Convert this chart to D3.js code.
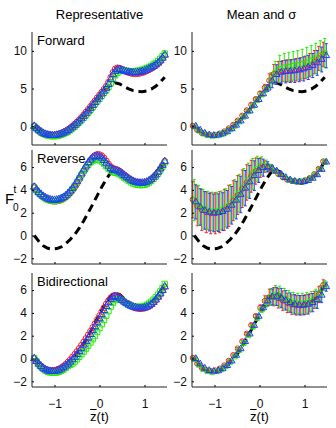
<!DOCTYPE html>
<meta charset="utf-8">
<body style="margin:0;background:#fff">
<script src="https://d3js.org/d3.v7.min.js"></script>
<div id="chart"></div>
<script>
// x grid of the representative runs and of the averaged runs
const xFine = [-1.45,-1.4,-1.35,-1.3,-1.25,-1.2,-1.15,-1.1,-1.05,-1,-0.95,-0.9,-0.85,-0.8,-0.75,-0.7,-0.65,-0.6,-0.55,-0.5,-0.45,-0.4,-0.35,-0.3,-0.25,-0.2,-0.15,-0.1,-0.05,0,0.05,0.1,0.15,0.2,0.25,0.3,0.35,0.4,0.45,0.5,0.55,0.6,0.65,0.7,0.75,0.8,0.85,0.9,0.95,1,1.05,1.1,1.15,1.2,1.25,1.3,1.35,1.4,1.45];
const xMean = [-1.45,-1.35,-1.25,-1.15,-1.05,-0.95,-0.85,-0.75,-0.65,-0.55,-0.45,-0.35,-0.25,-0.15,-0.05,0.05,0.15,0.25,0.35,0.45,0.55,0.65,0.75,0.85,0.95,1.05,1.15,1.25,1.35,1.45];

// exact profile (dashed)
const trueF = [0.0,-0.5,-0.9,-1.12,-1.2,-1.15,-1.0,-0.72,-0.35,0.1,0.65,1.3,2.0,2.75,3.5,4.25,4.95,5.5,5.75,5.6,5.25,4.95,4.72,4.6,4.58,4.68,4.92,5.3,5.85,6.5];

// representative estimates
const repFwdRed = [0.05,-0.2,-0.48,-0.7,-0.88,-1.02,-1.1,-1.16,-1.18,-1.17,-1.12,-1.05,-0.95,-0.8,-0.63,-0.44,-0.22,0.02,0.28,0.56,0.86,1.18,1.52,1.88,2.24,2.62,3.0,3.38,3.76,4.14,4.52,4.9,5.3,5.85,6.5,7.15,7.6,7.75,7.7,7.55,7.38,7.22,7.1,7.02,6.97,6.95,6.97,7.02,7.1,7.2,7.33,7.48,7.65,7.83,8.05,8.3,8.6,8.98,9.4];
const repFwdGreen = [-0.05,-0.35,-0.62,-0.85,-1.02,-1.15,-1.25,-1.31,-1.34,-1.34,-1.31,-1.25,-1.16,-1.04,-0.9,-0.73,-0.53,-0.3,-0.05,0.22,0.5,0.8,1.12,1.45,1.8,2.16,2.53,2.9,3.28,3.65,4.03,4.4,4.78,5.2,5.7,6.25,6.75,7.1,7.3,7.38,7.38,7.35,7.32,7.3,7.3,7.32,7.36,7.42,7.5,7.6,7.72,7.86,8.02,8.2,8.4,8.65,8.95,9.3,9.65];
const repFwdBlue = [0.0,-0.27,-0.53,-0.75,-0.93,-1.06,-1.15,-1.21,-1.23,-1.22,-1.18,-1.11,-1.02,-0.89,-0.74,-0.56,-0.35,-0.12,0.13,0.4,0.69,1.0,1.33,1.67,2.02,2.39,2.77,3.15,3.53,3.91,4.29,4.67,5.05,5.55,6.2,6.85,7.3,7.52,7.52,7.43,7.33,7.24,7.17,7.12,7.1,7.1,7.12,7.17,7.25,7.35,7.48,7.62,7.78,7.95,8.15,8.4,8.7,9.05,9.45];

const repRevRed = [4.3,4.02,3.78,3.57,3.4,3.26,3.15,3.07,3.02,3.0,3.01,3.05,3.12,3.22,3.35,3.52,3.72,3.96,4.24,4.55,4.89,5.25,5.62,5.98,6.32,6.62,6.86,7.03,7.12,7.1,7.0,6.8,6.55,6.28,6.05,5.9,5.82,5.76,5.65,5.5,5.34,5.18,5.03,4.9,4.79,4.7,4.64,4.61,4.61,4.64,4.7,4.8,4.94,5.12,5.33,5.58,5.87,6.18,6.52];
const repRevGreen = [4.2,3.95,3.72,3.53,3.37,3.24,3.14,3.07,3.03,3.02,3.04,3.09,3.17,3.28,3.42,3.6,3.82,4.08,4.37,4.68,5.0,5.33,5.65,5.94,6.2,6.41,6.56,6.64,6.65,6.6,6.48,6.3,6.08,5.86,5.68,5.56,5.5,5.45,5.36,5.22,5.07,4.92,4.78,4.66,4.56,4.49,4.44,4.42,4.42,4.45,4.52,4.63,4.78,4.96,5.17,5.42,5.71,6.03,6.4];
const repRevBlue = [4.25,4.0,3.78,3.6,3.45,3.32,3.22,3.15,3.11,3.1,3.12,3.17,3.25,3.36,3.5,3.68,3.9,4.15,4.43,4.74,5.07,5.42,5.77,6.1,6.4,6.64,6.82,6.93,6.96,6.92,6.8,6.6,6.35,6.1,5.9,5.78,5.72,5.66,5.56,5.42,5.27,5.12,4.98,4.86,4.76,4.68,4.63,4.61,4.61,4.64,4.7,4.8,4.94,5.12,5.32,5.57,5.86,6.17,6.5];

const repBiRed = [0.0,-0.24,-0.46,-0.65,-0.81,-0.93,-1.01,-1.05,-1.06,-1.04,-0.99,-0.91,-0.8,-0.66,-0.5,-0.31,-0.1,0.13,0.37,0.62,0.89,1.17,1.46,1.76,2.07,2.39,2.72,3.06,3.41,3.76,4.11,4.45,4.78,5.08,5.33,5.5,5.55,5.49,5.36,5.19,5.02,4.86,4.72,4.6,4.5,4.43,4.38,4.36,4.37,4.41,4.48,4.58,4.72,4.9,5.11,5.36,5.64,5.95,6.28];
const repBiGreen = [0.05,-0.25,-0.52,-0.75,-0.93,-1.07,-1.17,-1.23,-1.26,-1.26,-1.23,-1.17,-1.08,-0.97,-0.83,-0.67,-0.55,-0.45,-0.28,-0.08,0.14,0.37,0.61,0.86,1.12,1.4,1.69,2.0,2.32,2.65,3.0,3.37,3.75,4.15,4.55,4.9,5.12,5.22,5.2,5.1,4.97,4.84,4.73,4.65,4.59,4.55,4.53,4.53,4.56,4.62,4.71,4.83,4.98,5.16,5.37,5.61,5.88,6.18,6.55];
const repBiBlue = [0.0,-0.25,-0.48,-0.68,-0.85,-0.98,-1.07,-1.12,-1.14,-1.13,-1.09,-1.02,-0.92,-0.79,-0.64,-0.48,-0.3,-0.1,0.12,0.36,0.62,0.9,1.19,1.49,1.8,2.12,2.46,2.8,3.15,3.5,3.86,4.22,4.57,4.9,5.18,5.37,5.44,5.4,5.26,5.11,4.96,4.82,4.7,4.6,4.52,4.46,4.42,4.4,4.41,4.45,4.52,4.62,4.76,4.94,5.15,5.4,5.68,5.98,6.3];

// mean and standard deviation
const meanFwdRed = [0.05,-0.5,-0.9,-1.12,-1.2,-1.15,-0.98,-0.7,-0.3,0.18,0.75,1.4,2.1,2.85,3.6,4.35,5.1,6.05,6.9,7.2,7.3,7.35,7.4,7.5,7.6,7.8,8.1,8.5,9.0,9.55];
const sdFwdRed = [0.05,0.05,0.05,0.05,0.05,0.05,0.08,0.1,0.1,0.12,0.15,0.15,0.15,0.18,0.2,0.25,0.45,0.9,1.3,1.4,1.4,1.45,1.45,1.5,1.5,1.5,1.55,1.55,1.6,1.6];
const meanFwdGreen = [-0.05,-0.58,-0.98,-1.2,-1.28,-1.23,-1.08,-0.8,-0.42,0.05,0.6,1.25,1.95,2.7,3.45,4.2,5.0,6.1,7.1,7.6,7.8,7.9,8.0,8.1,8.25,8.45,8.7,9.0,9.35,9.7];
const sdFwdGreen = [0.05,0.05,0.05,0.05,0.05,0.05,0.08,0.1,0.1,0.12,0.15,0.15,0.15,0.18,0.2,0.25,0.5,1.0,1.5,1.8,1.85,1.9,1.9,1.95,1.95,2.0,2.0,2.0,2.0,1.95];
const meanFwdBlue = [0.0,-0.53,-0.93,-1.15,-1.23,-1.18,-1.02,-0.74,-0.35,0.13,0.69,1.33,2.02,2.77,3.53,4.29,5.05,6.0,6.85,7.15,7.25,7.3,7.35,7.45,7.6,7.8,8.05,8.4,8.85,9.35];
const sdFwdBlue = [0.05,0.05,0.05,0.05,0.05,0.05,0.08,0.1,0.1,0.12,0.15,0.15,0.15,0.18,0.2,0.25,0.45,0.9,1.3,1.45,1.5,1.5,1.55,1.55,1.6,1.6,1.6,1.65,1.65,1.6];

const meanRevRed = [3.15,2.6,2.25,2.05,1.95,1.95,2.05,2.25,2.6,3.05,3.55,4.1,4.65,5.2,5.65,5.95,6.05,5.95,5.7,5.4,5.1,4.9,4.78,4.72,4.74,4.84,5.05,5.38,5.85,6.5];
const sdRevRed = [1.6,1.75,1.8,1.8,1.8,1.8,1.8,1.8,1.8,1.75,1.7,1.65,1.55,1.4,1.15,0.85,0.5,0.3,0.18,0.14,0.12,0.1,0.1,0.1,0.1,0.1,0.1,0.1,0.1,0.12];
const meanRevGreen = [3.1,2.65,2.35,2.2,2.12,2.12,2.22,2.42,2.78,3.22,3.72,4.28,4.85,5.4,5.85,6.1,6.12,5.95,5.68,5.38,5.1,4.9,4.78,4.72,4.74,4.84,5.05,5.36,5.82,6.45];
const sdRevGreen = [1.8,1.75,1.7,1.68,1.68,1.68,1.68,1.68,1.68,1.68,1.65,1.6,1.5,1.35,1.1,0.8,0.5,0.28,0.16,0.12,0.1,0.1,0.1,0.1,0.1,0.1,0.1,0.1,0.1,0.1];
const meanRevBlue = [2.95,2.5,2.2,2.05,1.98,2.0,2.1,2.3,2.65,3.1,3.6,4.15,4.7,5.25,5.7,5.95,6.02,5.9,5.65,5.35,5.08,4.88,4.76,4.7,4.72,4.82,5.02,5.33,5.8,6.45];
const sdRevBlue = [1.5,1.6,1.65,1.65,1.65,1.65,1.65,1.65,1.65,1.65,1.6,1.55,1.45,1.3,1.05,0.75,0.45,0.25,0.15,0.12,0.1,0.1,0.1,0.1,0.1,0.1,0.1,0.1,0.1,0.1];

const meanBiRed = [0.05,-0.45,-0.82,-1.02,-1.1,-1.05,-0.88,-0.6,-0.2,0.3,0.88,1.5,2.18,2.93,3.72,4.45,5.05,5.38,5.42,5.28,5.08,4.88,4.73,4.66,4.66,4.73,4.88,5.15,5.6,6.45];
const sdBiRed = [0.05,0.05,0.05,0.05,0.05,0.05,0.05,0.05,0.05,0.08,0.08,0.1,0.1,0.12,0.15,0.25,0.45,0.7,0.8,0.85,0.85,0.85,0.85,0.85,0.85,0.85,0.8,0.75,0.7,0.45];
const meanBiGreen = [-0.05,-0.55,-0.92,-1.12,-1.18,-1.12,-0.95,-0.68,-0.3,0.18,0.74,1.36,2.03,2.78,3.55,4.3,4.95,5.4,5.55,5.45,5.25,5.05,4.9,4.82,4.82,4.88,5.02,5.28,5.7,6.4];
const sdBiGreen = [0.05,0.05,0.05,0.05,0.05,0.05,0.05,0.05,0.05,0.08,0.08,0.1,0.1,0.12,0.15,0.25,0.45,0.75,0.85,0.9,0.9,0.9,0.9,0.9,0.9,0.9,0.85,0.8,0.7,0.45];
const meanBiBlue = [0.0,-0.48,-0.85,-1.05,-1.12,-1.08,-0.9,-0.62,-0.22,0.28,0.85,1.48,2.15,2.9,3.7,4.45,5.05,5.4,5.45,5.3,5.1,4.9,4.75,4.68,4.68,4.75,4.9,5.15,5.55,6.3];
const sdBiBlue = [0.05,0.05,0.05,0.05,0.05,0.05,0.05,0.05,0.05,0.08,0.08,0.1,0.1,0.12,0.15,0.25,0.45,0.7,0.8,0.85,0.85,0.85,0.85,0.85,0.85,0.85,0.8,0.75,0.65,0.4];

const rowLabels = ["Forward", "Reverse", "Bidirectional"];
const colTitles = ["Representative", "Mean and \u03c3"];
const xTicks = [-1, 0, 1];
const yTicks = [[0, 5, 10], [-2, 0, 2, 4, 6], [-2, 0, 2, 4, 6]];
const yDomains = [[-2.5, 12.5], [-2.5, 7.5], [-2.5, 7.5]];

// layout
const W = 336, H = 428;
const colX = [32, 192], plotW = 135;
const rowY = [[32, 145], [150, 264], [273, 387]];
const colors = ["#ff1a1a", "#22ee00", "#1f3dff"];
const symbols = [d3.symbolCircle, d3.symbolSquare, d3.symbolTriangle];
const symSize = [26, 28, 24];
const dodge = [-1.5, 0, 1.5];
const fmt = d => (d < 0 ? "\u2212" : "") + Math.abs(d);

const rep = [[repFwdRed, repFwdGreen, repFwdBlue], [repRevRed, repRevGreen, repRevBlue], [repBiRed, repBiGreen, repBiBlue]];
const means = [[meanFwdRed, meanFwdGreen, meanFwdBlue], [meanRevRed, meanRevGreen, meanRevBlue], [meanBiRed, meanBiGreen, meanBiBlue]];
const sds = [[sdFwdRed, sdFwdGreen, sdFwdBlue], [sdRevRed, sdRevGreen, sdRevBlue], [sdBiRed, sdBiGreen, sdBiBlue]];

const svg = d3.select("#chart").append("svg")
    .attr("width", W).attr("height", H)
    .style("font-family", "'Liberation Sans', Arial, sans-serif")
    .style("background", "#fff");

// column titles
colTitles.forEach((t, c) => {
    svg.append("text")
        .attr("x", colX[c] + plotW / 2 + (c ? 2 : 0)).attr("y", 19)
        .attr("text-anchor", "middle").attr("font-size", 13)
        .text(t);
});

const line = d3.line();

for (let r = 0; r < 3; r++) {
    const y = d3.scaleLinear().domain(yDomains[r]).range([rowY[r][1], rowY[r][0]]);
    for (let c = 0; c < 2; c++) {
        const x = d3.scaleLinear().domain([-1.5, 1.5]).range([colX[c], colX[c] + plotW]);
        const g = svg.append("g");

        // exact profile
        g.append("path")
            .attr("d", line(xMean.map((v, i) => [x(v), y(trueF[i])])))
            .attr("fill", "none").attr("stroke", "#000")
            .attr("stroke-width", 3).attr("stroke-dasharray", "8,5");

        if (c === 0) {
            rep[r].forEach((s, k) => {
                g.selectAll(null).data(s).join("path")
                    .attr("transform", (d, i) => `translate(${x(xFine[i])},${y(d)})`)
                    .attr("d", d3.symbol().type(symbols[k]).size(symSize[k]))
                    .attr("fill", "none").attr("stroke", colors[k]).attr("stroke-width", 1);
            });
        } else {
            means[r].forEach((s, k) => {
                const sd = sds[r][k];
                const eb = g.append("g").attr("stroke", colors[k]).attr("stroke-width", 1).attr("fill", "none");
                s.forEach((m, i) => {
                    const px = x(xMean[i]) + dodge[k];
                    const y0 = y(m - sd[i]), y1 = y(m + sd[i]);
                    eb.append("line").attr("x1", px).attr("x2", px).attr("y1", y0).attr("y2", y1);
                    eb.append("line").attr("x1", px - 1.5).attr("x2", px + 1.5).attr("y1", y0).attr("y2", y0);
                    eb.append("line").attr("x1", px - 1.5).attr("x2", px + 1.5).attr("y1", y1).attr("y2", y1);
                });
            });
            means[r].forEach((s, k) => {
                g.selectAll(null).data(s).join("path")
                    .attr("transform", (d, i) => `translate(${x(xMean[i]) + dodge[k]},${y(d)})`)
                    .attr("d", d3.symbol().type(symbols[k]).size(symSize[k] * 0.8))
                    .attr("fill", "none").attr("stroke", colors[k]).attr("stroke-width", 1);
            });
        }

        // axes
        const ax = svg.append("g")
            .attr("transform", `translate(0,${rowY[r][1]})`)
            .call(d3.axisBottom(x).tickValues(xTicks).tickFormat(fmt).tickSize(-2).tickPadding(12));
        if (r < 2) ax.selectAll("text").remove();
        const ay = svg.append("g")
            .attr("transform", `translate(${colX[c]},0)`)
            .call(d3.axisLeft(y).tickValues(yTicks[r]).tickFormat(fmt).tickSize(-2).tickPadding(5));
        [ax, ay].forEach(a => {
            a.select(".domain").attr("stroke", "#222");
            a.selectAll("text").attr("font-size", 12).attr("font-family", "'Liberation Sans', Arial, sans-serif").attr("fill", "#111");
        });
        // keep only left and bottom spines
        ax.select(".domain").attr("d", `M${colX[c]},0H${colX[c] + plotW}`);
        ay.select(".domain").attr("d", `M0,${rowY[r][0]}V${rowY[r][1]}`);

        if (c === 0) {
            svg.append("text")
                .attr("x", colX[c] + 5).attr("y", rowY[r][0] + 13)
                .attr("font-size", 13).text(rowLabels[r]);
        }
    }
}

// y label F_0^t
const fl = svg.append("g");
fl.append("text").attr("x", 5).attr("y", 204).attr("font-size", 15).text("F");
fl.append("text").attr("x", 13.5).attr("y", 193).attr("font-size", 10).text("t");
fl.append("text").attr("x", 13).attr("y", 211).attr("font-size", 10).text("0");

// x labels with overline
colX.forEach(cx => {
    const t = svg.append("text")
        .attr("x", cx + plotW / 2).attr("y", 421)
        .attr("text-anchor", "middle").attr("font-size", 13)
        .text("z(t)");
    const n = t.node();
    const start = n.getStartPositionOfChar(0).x;
    const wz = n.getSubStringLength(0, 1);
    svg.append("line")
        .attr("x1", start).attr("x2", start + wz)
        .attr("y1", 409.5).attr("y2", 409.5)
        .attr("stroke", "#000").attr("stroke-width", 1);
});
</script>
</body>
